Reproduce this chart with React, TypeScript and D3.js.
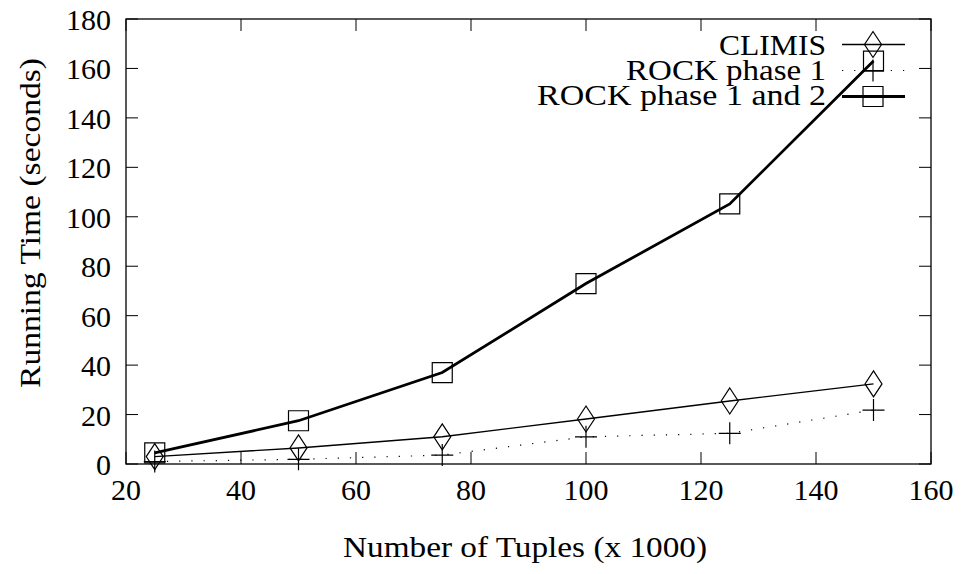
import * as d3 from "d3"

const tuples = [25, 50, 75, 100, 125, 150]
const climis = [3, 6.5, 11, 18.2, 25.5, 32.4]
const rockPhase1 = [1, 1.9, 3.6, 11, 12.4, 21.8]
const rockPhase12 = [4.5, 17.5, 37, 73, 105.2, 163]
const xTicks = [20, 40, 60, 80, 100, 120, 140, 160]
const yTicks = [0, 20, 40, 60, 80, 100, 120, 140, 160, 180]

const W = 963
const H = 574
const margin = { top: 19, right: 32, bottom: 110, left: 126 }
const textStyle = { fontFamily: "'Liberation Serif'" }

type Marker = "diamond" | "plus" | "square"

const series: {
  name: string
  values: number[]
  marker: Marker
  width: number
  dash?: string
  labelLen: number
  textY: number
  lineY: number
}[] = [
  { name: "CLIMIS", values: climis, marker: "diamond", width: 1.4, labelLen: 107, textY: 55, lineY: 44.5 },
  { name: "ROCK phase 1", values: rockPhase1, marker: "plus", width: 1.2, dash: "1.2 11", labelLen: 200, textY: 79.5, lineY: 70.5 },
  { name: "ROCK phase 1 and 2", values: rockPhase12, marker: "square", width: 2.8, labelLen: 289, textY: 104.5, lineY: 96.5 },
]

const markerPath = (m: Marker, cx: number, cy: number) => {
  if (m === "diamond") return `M${cx},${cy - 13}L${cx + 8.5},${cy}L${cx},${cy + 13}L${cx - 8.5},${cy}Z`
  if (m === "plus") return `M${cx - 11},${cy}H${cx + 11}M${cx},${cy - 11}V${cy + 11}`
  return `M${cx - 10},${cy - 10}H${cx + 10}V${cy + 10}H${cx - 10}Z`
}

export default function App() {
  const x = d3.scaleLinear().domain([20, 160]).range([margin.left, W - margin.right])
  const y = d3.scaleLinear().domain([0, 180]).range([H - margin.bottom, margin.top])
  const [x0, x1] = x.range()
  const [y0, y1] = y.range()
  const tick = 12

  const line = d3
    .line<number>()
    .x((_, i) => x(tuples[i]))
    .y((d) => y(d))

  return (
    <div style={{ margin: "-8px" }}>
      <svg width={W} height={H}>
        {/* ticks on all four sides, gnuplot mirror style */}
        {xTicks.map((t) => (
          <g key={"x" + t}>
            <line x1={x(t)} x2={x(t)} y1={y0} y2={y0 - tick} stroke="#000" strokeWidth={1} />
            <line x1={x(t)} x2={x(t)} y1={y1} y2={y1 + tick} stroke="#000" strokeWidth={1} />
            <text x={x(t)} y={y0 + 36} textAnchor="middle" fontSize={30} style={textStyle}>
              {t}
            </text>
          </g>
        ))}
        {yTicks.map((t) => (
          <g key={"y" + t}>
            <line x1={x0} x2={x0 + tick} y1={y(t)} y2={y(t)} stroke="#000" strokeWidth={1} />
            <line x1={x1} x2={x1 - tick} y1={y(t)} y2={y(t)} stroke="#000" strokeWidth={1} />
            <text x={x0 - 15} y={y(t) + 11} textAnchor="end" fontSize={30} style={textStyle}>
              {t}
            </text>
          </g>
        ))}
        <rect x={x0} y={y1} width={x1 - x0} height={y0 - y1} fill="none" stroke="#000" strokeWidth={1.3} />

        {series.map((s) => (
          <g key={s.name}>
            <path d={line(s.values) ?? ""} fill="none" stroke="#000" strokeWidth={s.width} strokeDasharray={s.dash} />
            {s.values.map((v, i) => (
              <path key={i} d={markerPath(s.marker, x(tuples[i]), y(v))} fill="none" stroke="#000" strokeWidth={1.2} />
            ))}
          </g>
        ))}

        {/* legend */}
        {series.map((s) => (
          <g key={"leg" + s.name}>
            <text
              x={826 - s.labelLen}
              y={s.textY}
              fontSize={29}
              textLength={s.labelLen}
              lengthAdjust="spacingAndGlyphs"
              style={textStyle}
            >
              {s.name}
            </text>
            <line x1={842} x2={905} y1={s.lineY} y2={s.lineY} stroke="#000" strokeWidth={s.width} strokeDasharray={s.dash} />
            <path d={markerPath(s.marker, 873, s.lineY)} fill="none" stroke="#000" strokeWidth={1.2} />
          </g>
        ))}

        <text x={343} y={557} fontSize={30} textLength={364} lengthAdjust="spacingAndGlyphs" style={textStyle}>
          Number of Tuples (x 1000)
        </text>
        <text
          transform={`translate(40,388) rotate(-90)`}
          fontSize={30}
          textLength={330}
          lengthAdjust="spacingAndGlyphs"
          style={textStyle}
        >
          Running Time (seconds)
        </text>
      </svg>
    </div>
  )
}
